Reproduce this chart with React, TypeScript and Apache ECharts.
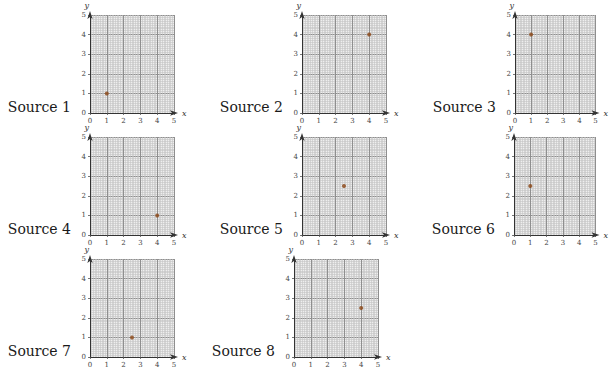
import React, { useEffect, useRef } from "react";
import * as echarts from "echarts";

const sources = ["Source 1", "Source 2", "Source 3", "Source 4", "Source 5", "Source 6", "Source 7", "Source 8"];
const pointX = [1, 4, 1, 4, 2.5, 1, 2.5, 4];
const pointY = [1, 4, 4, 1, 2.5, 2.5, 1, 2.5];
const axisTicks = [0, 1, 2, 3, 4, 5];

// panel layout (pixels)
const panelLeft = [90, 302, 515, 90, 302, 514, 90, 294];
const panelTop = [15, 15, 15, 137, 137, 137, 259, 259];
const PW = 84;
const PH = 98;

export default function App() {
  const ref = useRef<HTMLDivElement>(null);
  useEffect(() => {
    if (!ref.current) return;
    const chart = echarts.init(ref.current, undefined, { renderer: "svg" });
    const grids: any[] = [];
    const xAxes: any[] = [];
    const yAxes: any[] = [];
    const series: any[] = [];
    const graphics: any[] = [];
    const tickFont = { fontFamily: "DejaVu Serif", fontSize: 7, color: "#444" };
    const axisCommon = (isX: boolean, i: number) => ({
      type: "value",
      gridIndex: i,
      min: axisTicks[0],
      max: axisTicks[axisTicks.length - 1],
      interval: 1,
      name: isX ? "x" : "y",
      nameLocation: "end",
      nameGap: isX ? 8 : 6,
      nameTextStyle: isX
        ? { fontFamily: "DejaVu Serif", fontStyle: "italic", fontSize: 8, color: "#333", padding: [7, 0, 0, 0] }
        : { fontFamily: "DejaVu Serif", fontStyle: "italic", fontSize: 8, color: "#333", align: "right", padding: [0, 1, 0, 0] },
      axisLine: {
        show: true,
        onZero: false,
        symbol: ["none", "arrow"],
        symbolSize: [4, 8],
        symbolOffset: [0, 4],
        lineStyle: { color: "#333", width: 1 },
      },
      axisTick: { show: true, length: 2, lineStyle: { color: "#555", width: 0.8 } },
      axisLabel: { ...tickFont, margin: 4 },
      splitLine: { show: true, lineStyle: { color: "#8f8f8f", width: 1 } },
      minorTick: { show: false, splitNumber: 10 },
      minorSplitLine: { show: true, lineStyle: { color: "#c4c4c4", width: 0.6 } },
    });
    for (let i = 0; i < sources.length; i++) {
      grids.push({
        left: panelLeft[i],
        top: panelTop[i],
        width: PW,
        height: PH,
        show: true,
        backgroundColor: "#eeeeee",
        borderWidth: 0,
        containLabel: false,
      });
      xAxes.push(axisCommon(true, i));
      yAxes.push(axisCommon(false, i));
      series.push({
        type: "scatter",
        xAxisIndex: i,
        yAxisIndex: i,
        symbolSize: 4,
        itemStyle: { color: "#8b4513" },
        data: [[pointX[i], pointY[i]]],
      });
      graphics.push({
        type: "text",
        right: 609 - (panelLeft[i] - 19),
        top: panelTop[i] + PH - 13,
        style: {
          text: sources[i],
          font: "14px 'DejaVu Serif'",
          fill: "#1a1a1a",
        },
      });
    }
    chart.setOption({
      animation: false,
      backgroundColor: "#fff",
      grid: grids,
      xAxis: xAxes,
      yAxis: yAxes,
      series,
      graphic: graphics,
    });
    return () => chart.dispose();
  }, []);
  return (
    <div
      ref={ref}
      style={{ position: "fixed", left: 0, top: 0, width: 609, height: 372 }}
    />
  );
}
